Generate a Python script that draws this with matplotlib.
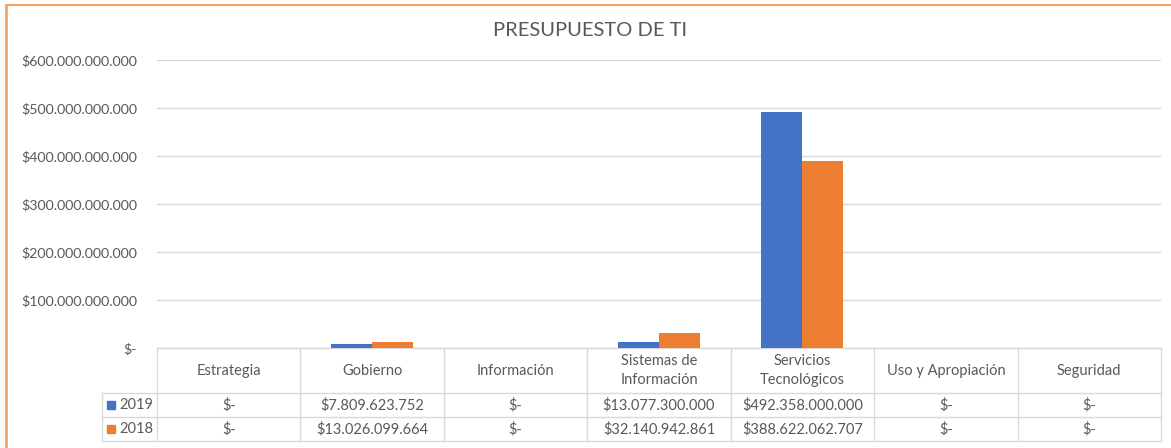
import matplotlib
matplotlib.use("Agg")
import matplotlib.pyplot as plt
import matplotlib.transforms as mtransforms
from matplotlib.lines import Line2D
from matplotlib.patches import Rectangle
import numpy as np

categories = ["Estrategia", "Gobierno", "Información", "Sistemas de\nInformación",
              "Servicios\nTecnológicos", "Uso y Apropiación", "Seguridad"]
series_names = ["2019", "2018"]
values_2019 = [0, 7809623752, 0, 13077300000, 492358000000, 0, 0]
values_2018 = [0, 13026099664, 0, 32140942861, 388622062707, 0, 0]
yticks = [0, 100e9, 200e9, 300e9, 400e9, 500e9, 600e9]
title = "PRESUPUESTO DE TI"

colors = ["#4472C4", "#ED7D31"]
text_color = "#595959"
grid_color = "#D9D9D9"
plt.rcParams['font.family'] = ['Lato', 'DejaVu Sans']


def fmt(v):
    if v == 0:
        return "$-"
    return "$" + f"{int(round(v)):,}".replace(",", ".")


W, H = 1171, 448
fig = plt.figure(figsize=(W / 100, H / 100), dpi=100)
x0, x1, ytop, ybot = 157, 1161, 60, 348
ax = fig.add_axes([x0 / W, 1 - ybot / H, (x1 - x0) / W, (ybot - ytop) / H])

n = len(categories)
xs = np.arange(n) + 0.5
bw = 0.286
ax.bar(xs - bw / 2, values_2019, bw, color=colors[0], zorder=3)
ax.bar(xs + bw / 2, values_2018, bw, color=colors[1], zorder=3)

ax.set_xlim(0, n)
ax.set_ylim(0, 600e9)
ax.set_yticks(yticks)
ax.set_yticklabels([fmt(v) for v in yticks], color=text_color, fontsize=10.2)
ax.tick_params(axis='y', length=0, pad=14.5)
ax.set_xticks([])
for s in ax.spines.values():
    s.set_visible(False)
ax.grid(axis='y', color=grid_color, linewidth=1, zorder=0)
ax.set_axisbelow(True)

# Data table below axis
trans = mtransforms.blended_transform_factory(ax.transData, ax.transAxes)
ph = ybot - ytop
y_hdr = -(393 - ybot) / ph
y_r1 = -(417 - ybot) / ph
y_r2 = -(441 - ybot) / ph
xleg = (102 - x0) / (x1 - x0) * n
px_x = n / (x1 - x0)
px_y = 1 / ph
lkw = dict(color=grid_color, linewidth=1, transform=trans, clip_on=False, zorder=1)
ax.plot([0, n], [0, 0], **lkw)
for yy in (y_hdr, y_r1, y_r2):
    ax.plot([xleg, n], [yy, yy], **lkw)
for i in range(n + 1):
    ax.plot([i, i], [0, y_r2], **lkw)
ax.plot([xleg, xleg], [y_hdr, y_r2], **lkw)

for i, c in enumerate(categories):
    ax.text(i + 0.5, y_hdr / 2, c, ha='center', va='center', fontsize=10.5,
            color=text_color, transform=trans, linespacing=1.45)
rows = [values_2019, values_2018]
for r, (vals, yy) in enumerate(zip(rows, [(y_hdr + y_r1) / 2, (y_r1 + y_r2) / 2])):
    for i, v in enumerate(vals):
        ax.text(i + 0.5, yy, fmt(v), ha='center', va='center', fontsize=10.5,
                color=text_color, transform=trans)
    sq = 8
    ax.add_patch(Rectangle((xleg + 5 * px_x, yy - sq / 2 * px_y), sq * px_x, sq * px_y,
                           color=colors[r], transform=trans, clip_on=False))
    ax.text(xleg + 17 * px_x, yy, series_names[r], ha='left', va='center', fontsize=10.5,
            color=text_color, transform=trans)

fig.text(590 / W, 1 - 30 / H, title, ha='center', va='center', fontsize=14.5,
         color=text_color)

fig.add_artist(Line2D([6 / W, 6 / W], [0, 1 - 5 / H], color="#F4A460", linewidth=2))
fig.add_artist(Line2D([6 / W, 1], [1 - 5 / H, 1 - 5 / H], color="#F4A460", linewidth=1.5))

fig.savefig("out.png", dpi=100)
